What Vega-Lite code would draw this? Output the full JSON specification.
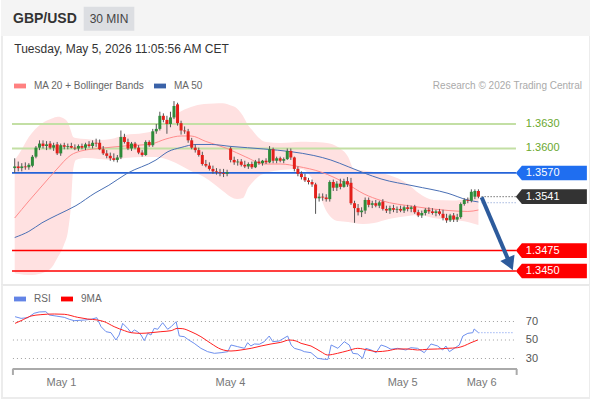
{
"$schema":"https://vega.github.io/schema/vega-lite/v6.json",
"padding":0,"spacing":0,"bounds":"flush","background":"#ffffff",
"config":{"view":{"stroke":null},"font":"Liberation Sans"},
"resolve":{"scale":{"color":"independent","fill":"independent","stroke":"independent","size":"independent","x":"independent","y":"independent"},"legend":{"color":"independent"}},
"datasets":{
"candles":[
{"i":0,"o":1.3576,"h":1.3588,"l":1.3570,"c":1.3578},{"i":1,"o":1.3578,"h":1.3584,"l":1.3572,"c":1.3576},{"i":2,"o":1.3576,"h":1.3582,"l":1.3572,"c":1.3578},{"i":3,"o":1.3578,"h":1.3583,"l":1.3574,"c":1.3577},{"i":4,"o":1.3577,"h":1.3582,"l":1.3574,"c":1.3580},
{"i":5,"o":1.3579,"h":1.3592,"l":1.3577,"c":1.3590},{"i":6,"o":1.3590,"h":1.3603,"l":1.3588,"c":1.3601},{"i":7,"o":1.3601,"h":1.3610,"l":1.3598,"c":1.3606},{"i":8,"o":1.3606,"h":1.3610,"l":1.3600,"c":1.3603},{"i":9,"o":1.3603,"h":1.3609,"l":1.3598,"c":1.3605},
{"i":10,"o":1.3606,"h":1.3609,"l":1.3599,"c":1.3601},{"i":11,"o":1.3601,"h":1.3607,"l":1.3597,"c":1.3604},{"i":12,"o":1.3605,"h":1.3608,"l":1.3592,"c":1.3594},{"i":13,"o":1.3594,"h":1.3606,"l":1.3591,"c":1.3604},{"i":14,"o":1.3604,"h":1.3607,"l":1.3599,"c":1.3602},
{"i":15,"o":1.3602,"h":1.3606,"l":1.3599,"c":1.3603},{"i":16,"o":1.3603,"h":1.3607,"l":1.3600,"c":1.3601},{"i":17,"o":1.3601,"h":1.3605,"l":1.3598,"c":1.3600},{"i":18,"o":1.3600,"h":1.3605,"l":1.3597,"c":1.3603},{"i":19,"o":1.3603,"h":1.3606,"l":1.3599,"c":1.3601},
{"i":20,"o":1.3601,"h":1.3607,"l":1.3598,"c":1.3605},{"i":21,"o":1.3605,"h":1.3609,"l":1.3601,"c":1.3603},{"i":22,"o":1.3603,"h":1.3610,"l":1.3600,"c":1.3607},{"i":23,"o":1.3607,"h":1.3612,"l":1.3602,"c":1.3606},{"i":24,"o":1.3607,"h":1.3611,"l":1.3598,"c":1.3599},
{"i":25,"o":1.3599,"h":1.3603,"l":1.3592,"c":1.3594},{"i":26,"o":1.3594,"h":1.3598,"l":1.3588,"c":1.3591},{"i":27,"o":1.3591,"h":1.3595,"l":1.3585,"c":1.3588},{"i":28,"o":1.3588,"h":1.3594,"l":1.3584,"c":1.3586},{"i":29,"o":1.3586,"h":1.3592,"l":1.3583,"c":1.3589},
{"i":30,"o":1.3589,"h":1.3622,"l":1.3587,"c":1.3614},{"i":31,"o":1.3614,"h":1.3618,"l":1.3606,"c":1.3608},{"i":32,"o":1.3608,"h":1.3612,"l":1.3598,"c":1.3600},{"i":33,"o":1.3600,"h":1.3608,"l":1.3597,"c":1.3606},{"i":34,"o":1.3606,"h":1.3608,"l":1.3599,"c":1.3601},
{"i":35,"o":1.3601,"h":1.3604,"l":1.3593,"c":1.3595},{"i":36,"o":1.3595,"h":1.3598,"l":1.3590,"c":1.3592},{"i":37,"o":1.3592,"h":1.3610,"l":1.3591,"c":1.3608},{"i":38,"o":1.3608,"h":1.3610,"l":1.3602,"c":1.3604},{"i":39,"o":1.3604,"h":1.3624,"l":1.3602,"c":1.3621},
{"i":40,"o":1.3621,"h":1.3630,"l":1.3618,"c":1.3624},{"i":41,"o":1.3624,"h":1.3645,"l":1.3622,"c":1.3640},{"i":42,"o":1.3640,"h":1.3643,"l":1.3632,"c":1.3635},{"i":43,"o":1.3635,"h":1.3640,"l":1.3618,"c":1.3630},{"i":44,"o":1.3630,"h":1.3645,"l":1.3626,"c":1.3638},
{"i":45,"o":1.3638,"h":1.3658,"l":1.3636,"c":1.3652},{"i":46,"o":1.3654,"h":1.3656,"l":1.3628,"c":1.3631},{"i":47,"o":1.3631,"h":1.3634,"l":1.3617,"c":1.3622},{"i":48,"o":1.3622,"h":1.3627,"l":1.3618,"c":1.3621},{"i":49,"o":1.3621,"h":1.3624,"l":1.3607,"c":1.3610},
{"i":50,"o":1.3610,"h":1.3613,"l":1.3599,"c":1.3601},{"i":51,"o":1.3601,"h":1.3605,"l":1.3595,"c":1.3598},{"i":52,"o":1.3598,"h":1.3601,"l":1.3590,"c":1.3592},{"i":53,"o":1.3592,"h":1.3596,"l":1.3579,"c":1.3581},{"i":54,"o":1.3581,"h":1.3586,"l":1.3577,"c":1.3579},
{"i":55,"o":1.3579,"h":1.3583,"l":1.3573,"c":1.3575},{"i":56,"o":1.3575,"h":1.3579,"l":1.3569,"c":1.3572},{"i":57,"o":1.3572,"h":1.3576,"l":1.3568,"c":1.3571},{"i":58,"o":1.3571,"h":1.3575,"l":1.3566,"c":1.3570},{"i":59,"o":1.3570,"h":1.3575,"l":1.3565,"c":1.3569},
{"i":60,"o":1.3569,"h":1.3574,"l":1.3566,"c":1.3571},{"i":61,"o":1.3600,"h":1.3602,"l":1.3583,"c":1.3586},{"i":62,"o":1.3586,"h":1.3590,"l":1.3580,"c":1.3583},{"i":63,"o":1.3583,"h":1.3587,"l":1.3579,"c":1.3584},{"i":64,"o":1.3584,"h":1.3587,"l":1.3578,"c":1.3580},
{"i":65,"o":1.3580,"h":1.3585,"l":1.3576,"c":1.3578},{"i":66,"o":1.3578,"h":1.3583,"l":1.3575,"c":1.3581},{"i":67,"o":1.3581,"h":1.3584,"l":1.3575,"c":1.3577},{"i":68,"o":1.3577,"h":1.3586,"l":1.3576,"c":1.3584},{"i":69,"o":1.3584,"h":1.3588,"l":1.3580,"c":1.3582},
{"i":70,"o":1.3582,"h":1.3586,"l":1.3579,"c":1.3585},{"i":71,"o":1.3585,"h":1.3588,"l":1.3581,"c":1.3583},{"i":72,"o":1.3583,"h":1.3603,"l":1.3582,"c":1.3599},{"i":73,"o":1.3599,"h":1.3601,"l":1.3582,"c":1.3585},{"i":74,"o":1.3585,"h":1.3590,"l":1.3582,"c":1.3588},
{"i":75,"o":1.3588,"h":1.3590,"l":1.3583,"c":1.3585},{"i":76,"o":1.3585,"h":1.3589,"l":1.3582,"c":1.3587},{"i":77,"o":1.3587,"h":1.3600,"l":1.3586,"c":1.3597},{"i":78,"o":1.3597,"h":1.3600,"l":1.3586,"c":1.3589},{"i":79,"o":1.3589,"h":1.3590,"l":1.3572,"c":1.3575},
{"i":80,"o":1.3575,"h":1.3578,"l":1.3566,"c":1.3569},{"i":81,"o":1.3569,"h":1.3572,"l":1.3562,"c":1.3565},{"i":82,"o":1.3565,"h":1.3569,"l":1.3559,"c":1.3561},{"i":83,"o":1.3561,"h":1.3564,"l":1.3556,"c":1.3559},{"i":84,"o":1.3559,"h":1.3562,"l":1.3553,"c":1.3556},
{"i":85,"o":1.3556,"h":1.3558,"l":1.3520,"c":1.3539},{"i":86,"o":1.3539,"h":1.3545,"l":1.3535,"c":1.3541},{"i":87,"o":1.3541,"h":1.3545,"l":1.3536,"c":1.3540},{"i":88,"o":1.3540,"h":1.3544,"l":1.3535,"c":1.3538},{"i":89,"o":1.3538,"h":1.3561,"l":1.3535,"c":1.3559},
{"i":90,"o":1.3559,"h":1.3562,"l":1.3548,"c":1.3552},{"i":91,"o":1.3552,"h":1.3560,"l":1.3548,"c":1.3557},{"i":92,"o":1.3557,"h":1.3563,"l":1.3550,"c":1.3553},{"i":93,"o":1.3553,"h":1.3563,"l":1.3552,"c":1.3560},{"i":94,"o":1.3560,"h":1.3565,"l":1.3553,"c":1.3556},
{"i":95,"o":1.3558,"h":1.3564,"l":1.3531,"c":1.3533},{"i":96,"o":1.3533,"h":1.3536,"l":1.3509,"c":1.3527},{"i":97,"o":1.3527,"h":1.3532,"l":1.3518,"c":1.3522},{"i":98,"o":1.3522,"h":1.3528,"l":1.3516,"c":1.3524},{"i":99,"o":1.3524,"h":1.3540,"l":1.3520,"c":1.3537},
{"i":100,"o":1.3537,"h":1.3540,"l":1.3528,"c":1.3531},{"i":101,"o":1.3531,"h":1.3536,"l":1.3527,"c":1.3533},{"i":102,"o":1.3533,"h":1.3537,"l":1.3528,"c":1.3530},{"i":103,"o":1.3530,"h":1.3536,"l":1.3527,"c":1.3534},{"i":104,"o":1.3535,"h":1.3538,"l":1.3524,"c":1.3526},
{"i":105,"o":1.3526,"h":1.3530,"l":1.3521,"c":1.3524},{"i":106,"o":1.3524,"h":1.3530,"l":1.3520,"c":1.3527},{"i":107,"o":1.3527,"h":1.3531,"l":1.3522,"c":1.3525},{"i":108,"o":1.3525,"h":1.3529,"l":1.3521,"c":1.3526},{"i":109,"o":1.3526,"h":1.3530,"l":1.3522,"c":1.3524},
{"i":110,"o":1.3524,"h":1.3530,"l":1.3521,"c":1.3528},{"i":111,"o":1.3528,"h":1.3531,"l":1.3523,"c":1.3526},{"i":112,"o":1.3526,"h":1.3530,"l":1.3522,"c":1.3528},{"i":113,"o":1.3529,"h":1.3531,"l":1.3520,"c":1.3522},{"i":114,"o":1.3522,"h":1.3525,"l":1.3516,"c":1.3518},
{"i":115,"o":1.3518,"h":1.3524,"l":1.3515,"c":1.3521},{"i":116,"o":1.3521,"h":1.3527,"l":1.3518,"c":1.3525},{"i":117,"o":1.3525,"h":1.3528,"l":1.3520,"c":1.3523},{"i":118,"o":1.3523,"h":1.3527,"l":1.3519,"c":1.3521},{"i":119,"o":1.3521,"h":1.3525,"l":1.3517,"c":1.3523},
{"i":120,"o":1.3523,"h":1.3526,"l":1.3518,"c":1.3520},{"i":121,"o":1.3520,"h":1.3525,"l":1.3512,"c":1.3515},{"i":122,"o":1.3515,"h":1.3520,"l":1.3509,"c":1.3512},{"i":123,"o":1.3512,"h":1.3520,"l":1.3510,"c":1.3518},{"i":124,"o":1.3518,"h":1.3521,"l":1.3510,"c":1.3513},
{"i":125,"o":1.3513,"h":1.3520,"l":1.3510,"c":1.3516},{"i":126,"o":1.3516,"h":1.3534,"l":1.3514,"c":1.3532},{"i":127,"o":1.3532,"h":1.3539,"l":1.3530,"c":1.3537},{"i":128,"o":1.3537,"h":1.3540,"l":1.3533,"c":1.3536},{"i":129,"o":1.3536,"h":1.3550,"l":1.3534,"c":1.3547},
{"i":130,"o":1.3541,"h":1.3550,"l":1.3538,"c":1.3548},{"i":131,"o":1.3548,"h":1.3550,"l":1.3539,"c":1.3541}
],
"band":[
{"i":0,"up":1.35859,"lo":1.34474},{"i":1.2,"up":1.35932,"lo":1.34463},{"i":4.0,"up":1.36141,"lo":1.34451},{"i":7.7,"up":1.36306,"lo":1.34474},{"i":10.5,"up":1.36367,"lo":1.34546},{"i":12.2,"up":1.36389,"lo":1.34671},{"i":13.9,"up":1.36367,"lo":1.34818},{"i":15.1,"up":1.36312,"lo":1.35002},{"i":15.9,"up":1.36214,"lo":1.35308},{"i":16.5,"up":1.36141,"lo":1.35737},{"i":17.3,"up":1.36128,"lo":1.35859},{"i":20.1,"up":1.36116,"lo":1.35883},{"i":23.8,"up":1.36104,"lo":1.35871},{"i":27.2,"up":1.36116,"lo":1.35859},{"i":31.2,"up":1.36165,"lo":1.35883},{"i":36.5,"up":1.3619,"lo":1.35896},{"i":39.9,"up":1.36226,"lo":1.35896},{"i":42.7,"up":1.36324,"lo":1.35871},{"i":46.1,"up":1.36434,"lo":1.3581},{"i":49.8,"up":1.36508,"lo":1.35724},{"i":53.5,"up":1.36545,"lo":1.35651},{"i":56.3,"up":1.36551,"lo":1.35565},{"i":58.8,"up":1.36553,"lo":1.35479},{"i":61.1,"up":1.36526,"lo":1.35406},{"i":62.8,"up":1.3649,"lo":1.35381},{"i":64.5,"up":1.36398,"lo":1.35394},{"i":65.9,"up":1.36288,"lo":1.35516},{"i":67.3,"up":1.36214,"lo":1.3559},{"i":68.7,"up":1.36141,"lo":1.35651},{"i":71.0,"up":1.36079,"lo":1.357},{"i":75.2,"up":1.36067,"lo":1.35737},{"i":80.9,"up":1.36083,"lo":1.35749},{"i":83.7,"up":1.36079,"lo":1.35651},{"i":86.0,"up":1.36076,"lo":1.35443},{"i":88.2,"up":1.36067,"lo":1.35222},{"i":91.3,"up":1.36018,"lo":1.35112},{"i":94.2,"up":1.35896,"lo":1.351},{"i":95.8,"up":1.35749,"lo":1.35088},{"i":98.4,"up":1.3573,"lo":1.35075},{"i":101.5,"up":1.35712,"lo":1.35088},{"i":105.7,"up":1.35675,"lo":1.35137},{"i":111.1,"up":1.35565,"lo":1.35173},{"i":114.2,"up":1.35451,"lo":1.35186},{"i":118.4,"up":1.35369,"lo":1.35149},{"i":123.8,"up":1.35363,"lo":1.35124},{"i":128.0,"up":1.35388,"lo":1.351},{"i":131,"up":1.3543,"lo":1.35063}
],
"ma20":[
{"i":0,"v":1.35149},{"i":4.0,"v":1.35357},{"i":7.7,"v":1.35541},{"i":11.7,"v":1.35737},{"i":15.9,"v":1.3592},{"i":18.7,"v":1.35969},{"i":23.8,"v":1.36},{"i":31.2,"v":1.36031},{"i":38.5,"v":1.36055},{"i":42.7,"v":1.36116},{"i":47.0,"v":1.36153},{"i":49.8,"v":1.36153},{"i":54.0,"v":1.36086},{"i":60.0,"v":1.36},{"i":65.3,"v":1.35896},{"i":70.4,"v":1.3581},{"i":75.2,"v":1.3581},{"i":80.0,"v":1.3578},{"i":86.5,"v":1.35712},{"i":93.9,"v":1.35565},{"i":98.7,"v":1.35443},{"i":103.5,"v":1.35363},{"i":112.8,"v":1.3529},{"i":122.4,"v":1.35241},{"i":128.0,"v":1.35229},{"i":131,"v":1.35247}
],
"ma50":[
{"i":0,"v":1.3491},{"i":4.0,"v":1.34985},{"i":7.7,"v":1.3509},{"i":12.2,"v":1.3519},{"i":17.3,"v":1.353},{"i":22.7,"v":1.35455},{"i":26.6,"v":1.3555},{"i":31.7,"v":1.35694},{"i":39.9,"v":1.35859},{"i":43.3,"v":1.35961},{"i":47.0,"v":1.36012},{"i":51.2,"v":1.36049},{"i":55.5,"v":1.36049},{"i":61.1,"v":1.36025},{"i":70.4,"v":1.35994},{"i":78.0,"v":1.35961},{"i":84.5,"v":1.35914},{"i":89.3,"v":1.35859},{"i":94.2,"v":1.35777},{"i":98.7,"v":1.357},{"i":103.5,"v":1.35627},{"i":112.8,"v":1.35541},{"i":122.4,"v":1.35451},{"i":128.0,"v":1.35369},{"i":131,"v":1.35345}
],
"levels":[
{"p":1.363,"kind":"resistance"},{"p":1.36,"kind":"resistance"},{"p":1.357,"kind":"pivot"},{"p":1.3541,"kind":"last"},{"p":1.3475,"kind":"support"},{"p":1.345,"kind":"support"}
],
"rsilev":[{"v":70},{"v":50},{"v":30}],
"days":[{"i":13.22,"d":"May 1"},{"i":60.96,"d":"May 4"},{"i":109.6,"d":"May 5"},{"i":131.92,"d":"May 6"}],
"rsi":[
{"i":0.1,"v":75.2},{"i":1.8,"v":73.4},{"i":3.7,"v":74.1},{"i":5.5,"v":78.9},{"i":6.9,"v":80.3},{"i":8.8,"v":80.6},{"i":9.8,"v":77},{"i":11.7,"v":75.9},{"i":14.0,"v":74.5},{"i":15.4,"v":72.4},{"i":16.8,"v":70.9},{"i":19.7,"v":71.6},{"i":21.6,"v":72.4},{"i":23.2,"v":74.1},{"i":24.4,"v":64.4},{"i":25.8,"v":59},{"i":27.2,"v":57.9},{"i":28.6,"v":50},{"i":29.5,"v":55.4},{"i":30.5,"v":68},{"i":31.9,"v":62.6},{"i":32.9,"v":57.9},{"i":33.8,"v":60.8},{"i":34.7,"v":59},{"i":35.7,"v":55.4},{"i":36.6,"v":49.3},{"i":37.6,"v":57.2},{"i":38.5,"v":55.4},{"i":39.4,"v":62.6},{"i":40.4,"v":61.6},{"i":41.8,"v":68.7},{"i":43.2,"v":61.6},{"i":44.2,"v":64.4},{"i":45.6,"v":69.8},{"i":46.5,"v":54.3},{"i":47.9,"v":53.6},{"i":48.9,"v":50.7},{"i":50.7,"v":46.4},{"i":52.6,"v":41},{"i":54.5,"v":37.4},{"i":56.4,"v":35.6},{"i":58.3,"v":36.3},{"i":60.2,"v":37.4},{"i":61.1,"v":44.6},{"i":63.0,"v":42.8},{"i":64.9,"v":41},{"i":65.8,"v":47.1},{"i":66.7,"v":43.5},{"i":67.7,"v":45.7},{"i":69.1,"v":45.4},{"i":70.5,"v":48.2},{"i":71.9,"v":54.3},{"i":72.9,"v":48.2},{"i":74.7,"v":48.9},{"i":77.1,"v":54.3},{"i":78.1,"v":44.6},{"i":79.0,"v":41},{"i":80.9,"v":39},{"i":81.8,"v":37.4},{"i":83.7,"v":36.3},{"i":85.6,"v":30.2},{"i":87.5,"v":29.1},{"i":88.5,"v":29.1},{"i":89.4,"v":44.6},{"i":91.3,"v":41},{"i":93.1,"v":48.2},{"i":94.5,"v":44.6},{"i":95.5,"v":35.6},{"i":96.9,"v":34.9},{"i":98.3,"v":30.2},{"i":99.2,"v":41},{"i":100.7,"v":39.2},{"i":102.1,"v":36.3},{"i":103.5,"v":44.6},{"i":104.9,"v":42.8},{"i":106.3,"v":40},{"i":108.2,"v":41},{"i":110.5,"v":39.2},{"i":111.9,"v":41.7},{"i":113.8,"v":41},{"i":115.7,"v":36.3},{"i":117.6,"v":45.7},{"i":119.5,"v":43.5},{"i":120.9,"v":39.2},{"i":121.8,"v":43.5},{"i":122.8,"v":37.4},{"i":124.2,"v":41},{"i":125.6,"v":44.6},{"i":126.6,"v":54.3},{"i":128.0,"v":57.2},{"i":129.4,"v":57.9},{"i":129.8,"v":61.9},{"i":131,"v":57.9}
],
"rsima":[
{"i":0.1,"v":68},{"i":1.8,"v":70.9},{"i":4.6,"v":75.9},{"i":7.4,"v":77.4},{"i":11.2,"v":78.1},{"i":14.0,"v":77.8},{"i":17.8,"v":74.5},{"i":20.6,"v":72.7},{"i":23.4,"v":71.6},{"i":25.3,"v":69.8},{"i":28.1,"v":64.4},{"i":31.0,"v":60.1},{"i":32.9,"v":57.9},{"i":35.7,"v":57.2},{"i":38.5,"v":57.9},{"i":41.3,"v":59},{"i":44.2,"v":60.1},{"i":46.0,"v":62.6},{"i":47.5,"v":62.2},{"i":49.8,"v":59},{"i":52.6,"v":53.6},{"i":55.4,"v":46.4},{"i":58.3,"v":40},{"i":61.1,"v":38.1},{"i":63.9,"v":39.2},{"i":66.8,"v":41},{"i":69.6,"v":43.5},{"i":72.4,"v":45.7},{"i":75.2,"v":47.5},{"i":77.6,"v":50},{"i":79.5,"v":48.9},{"i":80.9,"v":46.4},{"i":83.7,"v":43.5},{"i":86.5,"v":37.4},{"i":88.4,"v":33.8},{"i":91.2,"v":35.6},{"i":94.1,"v":38.4},{"i":96.9,"v":41},{"i":99.7,"v":39.2},{"i":102.5,"v":37.4},{"i":105.4,"v":38.4},{"i":108.2,"v":40.3},{"i":111.0,"v":40.3},{"i":113.8,"v":39.2},{"i":116.7,"v":40},{"i":119.5,"v":40.3},{"i":122.3,"v":41},{"i":125.1,"v":41.7},{"i":127.0,"v":43.8},{"i":128.9,"v":47.1},{"i":130.8,"v":50}
]
},
"vconcat":[
{
"width":590,"height":36,
"view":{"fill":"#f4f4f4","stroke":null},
"data":{"values":[{}]},
"layer":[
{"mark":{"type":"rect","fill":"#dcdee2"},
 "encoding":{"x":{"datum":82.7,"type":"quantitative","scale":{"domain":[0,590],"nice":false,"zero":false,"padding":0},"axis":null},"x2":{"datum":133.3},
 "y":{"datum":6.7,"type":"quantitative","scale":{"domain":[0,36],"reverse":true,"nice":false,"zero":false,"padding":0},"axis":null},"y2":{"datum":30.7}}},
{"mark":{"type":"text","text":"GBP/USD","align":"left","baseline":"middle","fontSize":14,"fontWeight":"bold","color":"#333333"},
 "encoding":{"x":{"datum":12,"type":"quantitative","scale":{"domain":[0,590],"nice":false,"zero":false,"padding":0},"axis":null},
 "y":{"datum":19,"type":"quantitative","scale":{"domain":[0,36],"reverse":true,"nice":false,"zero":false,"padding":0},"axis":null}}},
{"mark":{"type":"text","text":"30 MIN","align":"center","baseline":"middle","fontSize":12,"color":"#444444"},
 "encoding":{"x":{"datum":108,"type":"quantitative","scale":{"domain":[0,590],"nice":false,"zero":false,"padding":0},"axis":null},
 "y":{"datum":19,"type":"quantitative","scale":{"domain":[0,36],"reverse":true,"nice":false,"zero":false,"padding":0},"axis":null}}}
]
},
{
"width":590,"height":248,
"layer":[
{"data":{"name":"band"},"mark":{"type":"area","color":"#ffe1e1","interpolate":"monotone"},
 "encoding":{"x":{"field":"i","type":"quantitative","scale":{"domain":[-3.87,162.8],"nice":false,"zero":false,"padding":0},"axis":null},
 "y":{"field":"up","type":"quantitative","scale":{"domain":[1.34341,1.37377],"nice":false,"zero":false,"padding":0},"axis":null},"y2":{"field":"lo"}}},
{"data":{"values":[{}]},"mark":{"type":"rule","color":"#ececec","strokeWidth":2},
 "encoding":{"x":{"datum":-3.59,"type":"quantitative","scale":{"domain":[-3.87,162.8],"nice":false,"zero":false,"padding":0},"axis":null},
 "y":{"datum":1.34341,"type":"quantitative","scale":{"domain":[1.34341,1.37377],"nice":false,"zero":false,"padding":0},"axis":null},"y2":{"datum":1.37377}}},
{"data":{"values":[{}]},"mark":{"type":"rule","color":"#ececec","strokeWidth":2},
 "encoding":{"x":{"datum":162.52,"type":"quantitative","scale":{"domain":[-3.87,162.8],"nice":false,"zero":false,"padding":0},"axis":null},
 "y":{"datum":1.34341,"type":"quantitative","scale":{"domain":[1.34341,1.37377],"nice":false,"zero":false,"padding":0},"axis":null},"y2":{"datum":1.37377}}},
{"data":{"name":"levels"},"transform":[{"filter":"datum.kind !== 'last'"}],"mark":{"type":"rule"},
 "encoding":{"x":{"datum":-0.76,"type":"quantitative","scale":{"domain":[-3.87,162.8],"nice":false,"zero":false,"padding":0},"axis":null},"x2":{"datum":141.6},
 "y":{"field":"p","type":"quantitative","scale":{"domain":[1.34341,1.37377],"nice":false,"zero":false,"padding":0},"axis":null},
 "stroke":{"field":"kind","type":"nominal","scale":{"domain":["resistance","pivot","support"],"range":["#c3dfa4","#2563d8","#ff0000"]},"legend":null},
 "size":{"field":"kind","type":"ordinal","scale":{"domain":["resistance","pivot","support"],"range":[2,1.5,2.5]},"legend":null}}},
{"data":{"name":"ma20"},"mark":{"type":"line","strokeWidth":1,"interpolate":"monotone"},
 "encoding":{"x":{"field":"i","type":"quantitative","scale":{"domain":[-3.87,162.8],"nice":false,"zero":false,"padding":0},"axis":null},
 "y":{"field":"v","type":"quantitative","scale":{"domain":[1.34341,1.37377],"nice":false,"zero":false,"padding":0},"axis":null},
 "color":{"datum":"MA 20 + Bollinger Bands","type":"nominal","scale":{"domain":["MA 20 + Bollinger Bands","MA 50"],"range":["#ff8c8c","#4a70b5"]},
  "legend":{"orient":"none","legendX":13,"legendY":44,"direction":"horizontal","title":null,"padding":0,"symbolType":"M-1,-0.4H1V0.4H-1Z","symbolSize":144,"symbolStrokeWidth":0,"labelFont":"Liberation Sans","labelFontSize":10,"labelColor":"#666666","labelOffset":8,"columnPadding":9,
   "encode":{"symbols":{"update":{"fill":{"signal":"datum.value === 'MA 50' ? '#3a62a8' : '#ff8080'"},"opacity":{"value":1}}}}}}}},
{"data":{"name":"ma50"},"mark":{"type":"line","strokeWidth":1,"interpolate":"monotone"},
 "encoding":{"x":{"field":"i","type":"quantitative","scale":{"domain":[-3.87,162.8],"nice":false,"zero":false,"padding":0},"axis":null},
 "y":{"field":"v","type":"quantitative","scale":{"domain":[1.34341,1.37377],"nice":false,"zero":false,"padding":0},"axis":null},
 "color":{"datum":"MA 50","type":"nominal","scale":{"domain":["MA 20 + Bollinger Bands","MA 50"],"range":["#ff8c8c","#4a70b5"]},
  "legend":{"orient":"none","legendX":13,"legendY":44,"direction":"horizontal","title":null,"padding":0,"symbolType":"M-1,-0.4H1V0.4H-1Z","symbolSize":144,"symbolStrokeWidth":0,"labelFont":"Liberation Sans","labelFontSize":10,"labelColor":"#666666","labelOffset":8,"columnPadding":9,
   "encode":{"symbols":{"update":{"fill":{"signal":"datum.value === 'MA 50' ? '#3a62a8' : '#ff8080'"},"opacity":{"value":1}}}}}}}},
{"data":{"name":"candles"},"mark":{"type":"rule","color":"#555555","strokeWidth":1},
 "encoding":{"x":{"field":"i","type":"quantitative","scale":{"domain":[-3.87,162.8],"nice":false,"zero":false,"padding":0},"axis":null},
 "y":{"field":"l","type":"quantitative","scale":{"domain":[1.34341,1.37377],"nice":false,"zero":false,"padding":0},"axis":null},"y2":{"field":"h"}}},
{"data":{"name":"candles"},"mark":{"type":"bar","width":3},
 "encoding":{"x":{"field":"i","type":"quantitative","scale":{"domain":[-3.87,162.8],"nice":false,"zero":false,"padding":0},"axis":null},
 "y":{"field":"o","type":"quantitative","scale":{"domain":[1.34341,1.37377],"nice":false,"zero":false,"padding":0},"axis":null},"y2":{"field":"c"},
 "color":{"condition":{"test":"datum.c >= datum.o","value":"#2e8b3a"},"value":"#e3201b"}}},
{"data":{"name":"levels"},"transform":[{"filter":"datum.kind === 'last'"}],"mark":{"type":"rule","color":"#333333","strokeWidth":1,"strokeDash":[1,2]},
 "encoding":{"x":{"datum":131.9,"type":"quantitative","scale":{"domain":[-3.87,162.8],"nice":false,"zero":false,"padding":0},"axis":null},"x2":{"datum":141.6},
 "y":{"field":"p","type":"quantitative","scale":{"domain":[1.34341,1.37377],"nice":false,"zero":false,"padding":0},"axis":null}}},
{"data":{"values":[{}]},"mark":{"type":"rule","color":"#7b96cf","strokeWidth":1,"strokeDash":[1,2]},
 "encoding":{"x":{"datum":131.9,"type":"quantitative","scale":{"domain":[-3.87,162.8],"nice":false,"zero":false,"padding":0},"axis":null},"x2":{"datum":141.6},
 "y":{"datum":1.35336,"type":"quantitative","scale":{"domain":[1.34341,1.37377],"nice":false,"zero":false,"padding":0},"axis":null}}},
{"data":{"values":[{}]},"mark":{"type":"rule","color":"#2d5b9c","strokeWidth":4},
 "encoding":{"x":{"datum":131.9,"type":"quantitative","scale":{"domain":[-3.87,162.8],"nice":false,"zero":false,"padding":0},"axis":null},"x2":{"datum":139.7},
 "y":{"datum":1.35402,"type":"quantitative","scale":{"domain":[1.34341,1.37377],"nice":false,"zero":false,"padding":0},"axis":null},"y2":{"datum":1.3461}}},
{"data":{"values":[{}]},"mark":{"type":"point","shape":"triangle-down","angle":336.4,"size":240,"filled":true,"color":"#2d5b9c","opacity":1,"strokeWidth":0},
 "encoding":{"x":{"datum":139.94,"type":"quantitative","scale":{"domain":[-3.87,162.8],"nice":false,"zero":false,"padding":0},"axis":null},
 "y":{"datum":1.34586,"type":"quantitative","scale":{"domain":[1.34341,1.37377],"nice":false,"zero":false,"padding":0},"axis":null}}},
{"data":{"name":"levels"},"transform":[{"filter":"datum.kind !== 'resistance'"}],"mark":{"type":"point","shape":"M-1,0L-0.83,-0.207H1V0.207H-0.83Z","size":5041,"filled":true,"opacity":1,"strokeWidth":0},
 "encoding":{"x":{"datum":151.6,"type":"quantitative","scale":{"domain":[-3.87,162.8],"nice":false,"zero":false,"padding":0},"axis":null},
 "y":{"field":"p","type":"quantitative","scale":{"domain":[1.34341,1.37377],"nice":false,"zero":false,"padding":0},"axis":null},
 "fill":{"field":"kind","type":"nominal","scale":{"domain":["pivot","last","support"],"range":["#1f6ef0","#333333","#ff0000"]},"legend":null}}},
{"data":{"name":"levels"},"transform":[{"filter":"datum.kind !== 'resistance'"}],"mark":{"type":"text","align":"left","baseline":"middle","fontSize":11,"color":"#ffffff"},
 "encoding":{"x":{"datum":144.4,"type":"quantitative","scale":{"domain":[-3.87,162.8],"nice":false,"zero":false,"padding":0},"axis":null},
 "y":{"field":"p","type":"quantitative","scale":{"domain":[1.34341,1.37377],"nice":false,"zero":false,"padding":0},"axis":null},
 "text":{"field":"p","type":"quantitative","format":".4f"}}},
{"data":{"name":"levels"},"transform":[{"filter":"datum.kind === 'resistance'"}],"mark":{"type":"text","align":"left","baseline":"middle","fontSize":11,"color":"#6aa82e"},
 "encoding":{"x":{"datum":144.4,"type":"quantitative","scale":{"domain":[-3.87,162.8],"nice":false,"zero":false,"padding":0},"axis":null},
 "y":{"field":"p","type":"quantitative","scale":{"domain":[1.34341,1.37377],"nice":false,"zero":false,"padding":0},"axis":null},
 "text":{"field":"p","type":"quantitative","format":".4f"}}},
{"data":{"values":[{}]},"mark":{"type":"text","text":"Tuesday, May 5, 2026 11:05:56 AM CET","align":"left","baseline":"middle","fontSize":12,"color":"#333333"},
 "encoding":{"x":{"datum":-0.11,"type":"quantitative","scale":{"domain":[-3.87,162.8],"nice":false,"zero":false,"padding":0},"axis":null},
 "y":{"datum":1.37222,"type":"quantitative","scale":{"domain":[1.34341,1.37377],"nice":false,"zero":false,"padding":0},"axis":null}}},
{"data":{"values":[{}]},"mark":{"type":"text","text":"Research © 2026 Trading Central","align":"right","baseline":"middle","fontSize":10,"color":"#aaaaaa"},
 "encoding":{"x":{"datum":160.25,"type":"quantitative","scale":{"domain":[-3.87,162.8],"nice":false,"zero":false,"padding":0},"axis":null},
 "y":{"datum":1.36765,"type":"quantitative","scale":{"domain":[1.34341,1.37377],"nice":false,"zero":false,"padding":0},"axis":null}}}
]
},
{
"width":590,"height":116,
"layer":[
{"data":{"values":[{}]},"mark":{"type":"rule","color":"#e9e9e9","strokeWidth":2},
 "encoding":{"x":{"datum":-3.87,"type":"quantitative","scale":{"domain":[-3.87,162.8],"nice":false,"zero":false,"padding":0},"axis":null},"x2":{"datum":162.8},
 "y":{"datum":109.46,"type":"quantitative","scale":{"domain":[-14.86,110.54],"nice":false,"zero":false,"padding":0},"axis":null}}},
{"data":{"values":[{}]},"mark":{"type":"rule","color":"#ececec","strokeWidth":2},
 "encoding":{"x":{"datum":-3.87,"type":"quantitative","scale":{"domain":[-3.87,162.8],"nice":false,"zero":false,"padding":0},"axis":null},"x2":{"datum":162.8},
 "y":{"datum":-12.7,"type":"quantitative","scale":{"domain":[-14.86,110.54],"nice":false,"zero":false,"padding":0},"axis":null}}},
{"data":{"values":[{}]},"mark":{"type":"rule","color":"#ececec","strokeWidth":2},
 "encoding":{"x":{"datum":-3.59,"type":"quantitative","scale":{"domain":[-3.87,162.8],"nice":false,"zero":false,"padding":0},"axis":null},
 "y":{"datum":-12.7,"type":"quantitative","scale":{"domain":[-14.86,110.54],"nice":false,"zero":false,"padding":0},"axis":null},"y2":{"datum":109.46}}},
{"data":{"values":[{}]},"mark":{"type":"rule","color":"#ececec","strokeWidth":2},
 "encoding":{"x":{"datum":162.52,"type":"quantitative","scale":{"domain":[-3.87,162.8],"nice":false,"zero":false,"padding":0},"axis":null},
 "y":{"datum":-12.7,"type":"quantitative","scale":{"domain":[-14.86,110.54],"nice":false,"zero":false,"padding":0},"axis":null},"y2":{"datum":109.46}}},
{"data":{"name":"rsilev"},"mark":{"type":"rule","color":"#a0a0a0","strokeWidth":1,"strokeDash":[1,3]},
 "encoding":{"x":{"datum":-0.5,"type":"quantitative","scale":{"domain":[-3.87,162.8],"nice":false,"zero":false,"padding":0},"axis":null},"x2":{"datum":141.6},
 "y":{"field":"v","type":"quantitative","scale":{"domain":[-14.86,110.54],"nice":false,"zero":false,"padding":0},"axis":null}}},
{"data":{"name":"rsilev"},"mark":{"type":"text","align":"left","baseline":"middle","fontSize":11,"color":"#555555"},
 "encoding":{"x":{"datum":144.4,"type":"quantitative","scale":{"domain":[-3.87,162.8],"nice":false,"zero":false,"padding":0},"axis":null},
 "y":{"field":"v","type":"quantitative","scale":{"domain":[-14.86,110.54],"nice":false,"zero":false,"padding":0},"axis":null},
 "text":{"field":"v","type":"quantitative"}}},
{"data":{"name":"rsi"},"mark":{"type":"line","strokeWidth":1},
 "encoding":{"x":{"field":"i","type":"quantitative","scale":{"domain":[-3.87,162.8],"nice":false,"zero":false,"padding":0},"axis":null},
 "y":{"field":"v","type":"quantitative","scale":{"domain":[-14.86,110.54],"nice":false,"zero":false,"padding":0},"axis":null},
 "color":{"datum":"RSI","type":"nominal","scale":{"domain":["RSI","9MA"],"range":["#6d8fee","#ff2020"]},
  "legend":{"orient":"none","legendX":13,"legendY":9,"direction":"horizontal","title":null,"padding":0,"symbolType":"M-1,-0.4H1V0.4H-1Z","symbolSize":144,"symbolStrokeWidth":0,"labelFont":"Liberation Sans","labelFontSize":10,"labelColor":"#666666","labelOffset":8,"columnPadding":10,
   "encode":{"symbols":{"update":{"fill":{"signal":"datum.value === 'RSI' ? '#6384e6' : '#ff0000'"},"opacity":{"value":1}}}}}}}},
{"data":{"name":"rsima"},"mark":{"type":"line","strokeWidth":1,"interpolate":"monotone"},
 "encoding":{"x":{"field":"i","type":"quantitative","scale":{"domain":[-3.87,162.8],"nice":false,"zero":false,"padding":0},"axis":null},
 "y":{"field":"v","type":"quantitative","scale":{"domain":[-14.86,110.54],"nice":false,"zero":false,"padding":0},"axis":null},
 "color":{"datum":"9MA","type":"nominal","scale":{"domain":["RSI","9MA"],"range":["#6d8fee","#ff2020"]},
  "legend":{"orient":"none","legendX":13,"legendY":9,"direction":"horizontal","title":null,"padding":0,"symbolType":"M-1,-0.4H1V0.4H-1Z","symbolSize":144,"symbolStrokeWidth":0,"labelFont":"Liberation Sans","labelFontSize":10,"labelColor":"#666666","labelOffset":8,"columnPadding":10,
   "encode":{"symbols":{"update":{"fill":{"signal":"datum.value === 'RSI' ? '#6384e6' : '#ff0000'"},"opacity":{"value":1}}}}}}}},
{"data":{"values":[{}]},"mark":{"type":"rule","color":"#6d8fee","strokeWidth":1,"strokeDash":[1,2]},
 "encoding":{"x":{"datum":131,"type":"quantitative","scale":{"domain":[-3.87,162.8],"nice":false,"zero":false,"padding":0},"axis":null},"x2":{"datum":141.1},
 "y":{"datum":57.9,"type":"quantitative","scale":{"domain":[-14.86,110.54],"nice":false,"zero":false,"padding":0},"axis":null}}},
{"data":{"values":[{}]},"mark":{"type":"rule","color":"#aaaaaa","strokeWidth":2},
 "encoding":{"x":{"datum":-0.6,"type":"quantitative","scale":{"domain":[-3.87,162.8],"nice":false,"zero":false,"padding":0},"axis":null},"x2":{"datum":141.9},
 "y":{"datum":18.65,"type":"quantitative","scale":{"domain":[-14.86,110.54],"nice":false,"zero":false,"padding":0},"axis":null}}},
{"data":{"values":[{}]},"mark":{"type":"rule","color":"#aaaaaa","strokeWidth":2},
 "encoding":{"x":{"datum":-0.5,"type":"quantitative","scale":{"domain":[-3.87,162.8],"nice":false,"zero":false,"padding":0},"axis":null},
 "y":{"datum":18.65,"type":"quantitative","scale":{"domain":[-14.86,110.54],"nice":false,"zero":false,"padding":0},"axis":null},"y2":{"datum":12.2}}},
{"data":{"values":[{}]},"mark":{"type":"rule","color":"#aaaaaa","strokeWidth":2},
 "encoding":{"x":{"datum":141.8,"type":"quantitative","scale":{"domain":[-3.87,162.8],"nice":false,"zero":false,"padding":0},"axis":null},
 "y":{"datum":18.65,"type":"quantitative","scale":{"domain":[-14.86,110.54],"nice":false,"zero":false,"padding":0},"axis":null},"y2":{"datum":12.2}}},
{"data":{"name":"days"},"mark":{"type":"text","align":"center","baseline":"middle","fontSize":11,"color":"#777777"},
 "encoding":{"x":{"field":"i","type":"quantitative","scale":{"domain":[-3.87,162.8],"nice":false,"zero":false,"padding":0},"axis":null},
 "y":{"datum":3.51,"type":"quantitative","scale":{"domain":[-14.86,110.54],"nice":false,"zero":false,"padding":0},"axis":null},
 "text":{"field":"d","type":"nominal"}}}
]
}
]
}
